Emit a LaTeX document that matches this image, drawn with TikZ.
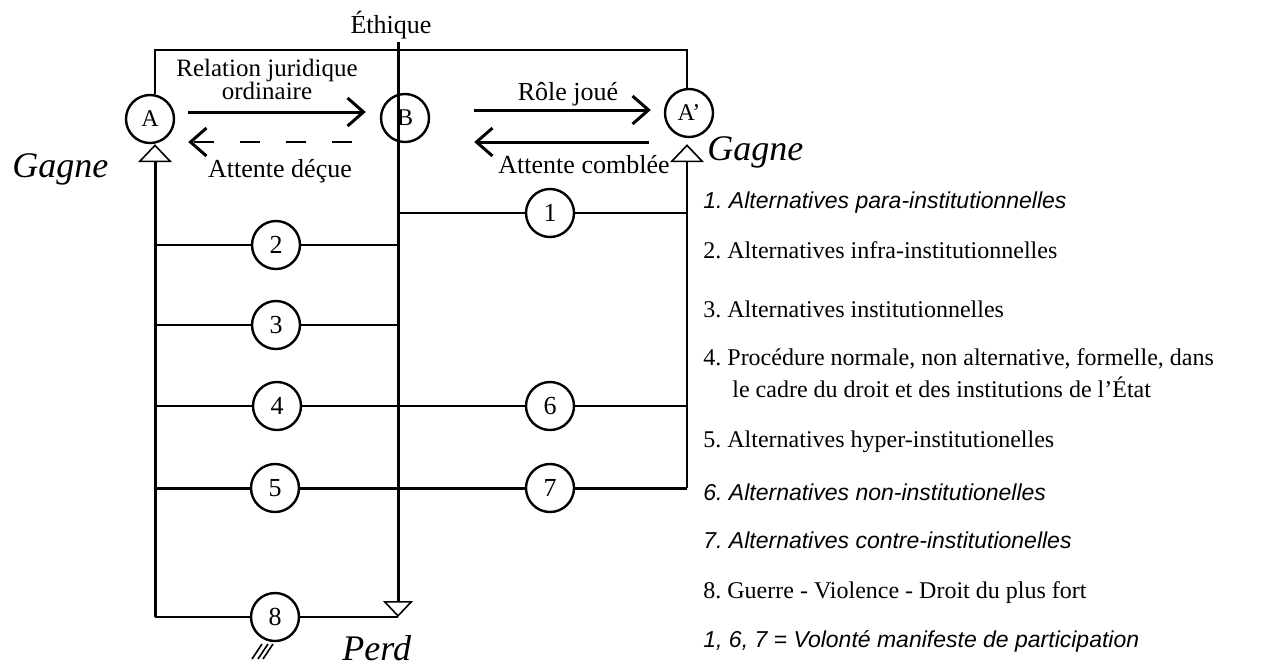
\documentclass[tikz,border=0pt]{standalone}
\usepackage{fontspec}
\setmainfont{Liberation Serif}
\setsansfont{Liberation Sans}
\usetikzlibrary{arrows.meta, positioning}
\frenchspacing

\tikzset{
  party/.style={circle, draw, line width=1.2pt, minimum size=24pt, inner sep=0pt, font=\fontsize{12}{12}\selectfont},
  way/.style={circle, draw, line width=1.2pt, minimum size=24pt, inner sep=0pt, font=\fontsize{13}{13}\selectfont},
  thinline/.style={line width=0.9pt},
  thickline/.style={line width=1.5pt},
  rel/.style={line width=1.5pt, -{Straight Barb[length=8pt,width=14pt,line width=1.5pt]}},
  gain/.style={-{Triangle[open,width=17pt,length=9pt,line width=0.8pt]}},
  lbl/.style={anchor=base, inner sep=0pt, font=\fontsize{13}{13}\selectfont},
  side/.style={anchor=base west, inner sep=0pt, font=\fontsize{18}{18}\selectfont\itshape},
  legrm/.style={anchor=base west, inner sep=0pt, font=\fontsize{12}{12}\selectfont},
  legit/.style={anchor=base west, inner sep=0pt, font=\sffamily\itshape\fontsize{11.5}{12}\selectfont},
}

\begin{document}
\begin{tikzpicture}[x=0.5pt, y=-0.5pt]
\useasboundingbox (0,0) rectangle (1268,666);

% the three parties
\node[party] (A) at (150,119) {A};
\node[party] (B) at (405,118) {B};
\node[party] (Ap) at (689,113) {A'};

% corners of the frame
\coordinate (tl) at (155,50);
\coordinate (tr) at (687,50);
\coordinate (eth) at (398,42);
\coordinate (bl) at (155,617);
\coordinate (br) at (398,617);

\node[lbl] (ethique) at (391,33) {Éthique};

% the ways out
\node[way] (c1) at (550,213) {1};
\node[way] (c2) at (276,245) {2};
\node[way] (c3) at (276,325) {3};
\node[way] (c4) at (277,406) {4};
\node[way] (c6) at (550,406) {6};
\node[way] (c5) at (275,488) {5};
\node[way] (c7) at (550,488) {7};
\node[way] (c8) at (275,617) {8};

% frame and main lines
\draw[thinline] (A.north -| tl) -- (tl) -- (tr) -- (tr |- Ap.north);
\draw[thickline, gain] (bl) -- (tl |- A.south);
\draw[thickline, -{Triangle[open,width=15pt,length=8pt,line width=0.8pt]}] (eth) -- (br);
\draw[thinline, gain] (tr |- c7) -- ([yshift=-3pt]tr |- Ap.south);

\draw[thinline] (eth |- c1) -- (c1) -- (tr |- c1);
\draw[thinline] (tl |- c2) -- (c2) -- (eth |- c2);
\draw[thinline] (tl |- c3) -- (c3) -- (eth |- c3);
\draw[thinline] (tl |- c4) -- (c4) -- (c6) -- (tr |- c6);
\draw[thickline] (tl |- c5) -- (c5) -- (c7) -- (tr |- c7);
\draw[thinline] (bl) -- (c8) -- (br);
\foreach \dx in {0,6,11}
  \draw[line width=0.8pt] ([shift={(-23+\dx,42)}]c8.center) -- ++(10,-15);

% relations
\draw[rel] ([shift={(13,-7)}]A.east) -- ([shift={(-14,-6)}]B.west);
\draw[rel, line width=1pt, dash pattern=on 10pt off 13pt] ([shift={(-28,24)}]B.west) -- ([shift={(13,23)}]A.east);
\draw[rel] ([shift={(44,-8)}]B.east) -- ([shift={(-13,-3)}]Ap.west);
\draw[rel] ([shift={(-15,29)}]Ap.west) -- ([shift={(44,24)}]B.east);

\node[lbl, font=\fontsize{12.5}{13}\selectfont] (rel1) at (267,76) {Relation juridique};
\node[lbl, font=\fontsize{12.5}{13}\selectfont] (rel2) at (267,99) {ordinaire};
\node[lbl] (decue) at (280,177) {Attente déçue};
\node[lbl] (role) at (568,100) {Rôle joué};
\node[lbl] (comblee) at (584,173) {Attente comblée};
\node[side] (gagneA) at (12,177) {Gagne};
\node[side] (gagneAp) at (707,160) {Gagne};
\node[side] (perd) at (342,660) {Perd};

% legend
\node[legit] (leg1) at (703,208) {1. Alternatives para-institutionnelles};
\node[legrm] (leg2) at (703,258) {2. Alternatives infra-institutionnelles};
\node[legrm] (leg3) at (703,317) {3. Alternatives institutionnelles};
\node[legrm] (leg4) at (703,365) {4. Procédure normale, non alternative, formelle, dans};
\node[legrm] (leg4b) at (732,397) {le cadre du droit et des institutions de l'État};
\node[legrm] (leg5) at (703,447) {5. Alternatives hyper-institutionelles};
\node[legit] (leg6) at (703,500) {6. Alternatives non-institutionelles};
\node[legit] (leg7) at (703,548) {7. Alternatives contre-institutionelles};
\node[legrm] (leg8) at (703,598) {8. Guerre - Violence - Droit du plus fort};
\node[legit] (leg9) at (703,647) {1, 6, 7 = Volonté manifeste de participation};
\end{tikzpicture}
\end{document}
